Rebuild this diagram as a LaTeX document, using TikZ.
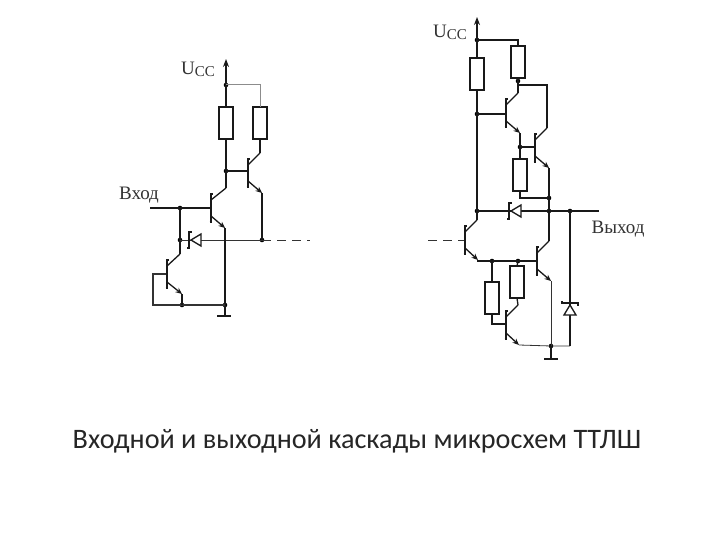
\documentclass[tikz,border=0pt]{standalone}
\usepackage{fontspec}
\setmainfont{Liberation Serif}
\newfontfamily\capfont{Carlito}
\usetikzlibrary{arrows.meta,calc}
\tikzset{
  x=1pt,y=-1pt,
  wire/.style={line width=1.3pt,black!90},
  thinwire/.style={line width=0.8pt,black!80},
  graywire/.style={line width=1pt,black!45},
  resbox/.style={draw=black!90,line width=1.2pt,fill=white,minimum width=14pt,minimum height=32pt,inner sep=0pt,outer sep=0pt},
  jdot/.style={circle,fill=black,inner sep=0pt,minimum size=4.6pt},
  lab/.style={inner sep=0pt,text=black!80,font=\fontsize{19}{19}\selectfont},
  emit/.style={line width=1.3pt,black!90,-{Stealth[length=6.5pt,width=5.5pt]}},
  groundbar/.style={line width=2pt,black!90},
}
% transistor: name, bar x, bar centre y, collector end x, emitter end x
\newcommand{\bjtsym}[5]{%
  \coordinate (#1b) at (#2,#3);
  \coordinate (#1c) at (#4,#3-20);
  \coordinate (#1e) at (#5,#3+20);
  \draw[wire] (#2-1.5,#3+14) -- (#2,#3+14) -- (#2,#3-14) -- (#2+2,#3-14);
  \draw[wire] (#2,#3-8) -- (#1c);
  \draw[emit] (#2,#3+8) -- (#1e);
}
% Schottky diode, tip at (0,0); bar a little behind the tip
\newcommand{\sdiode}[3]{%
  \begin{scope}[shift={(#1,#2)},rotate=#3]
    \draw[wire,fill=white] (0,0) -- (10,-6) -- (10,6) -- cycle;
    \draw[wire] (0.5,-8) -- (-2,-8) -- (-2,8) -- (-4,8);
  \end{scope}
}
\newcommand{\ucc}{U{\fontsize{15}{15}\selectfont\raisebox{-2pt}{CC}}}
\begin{document}
\begin{tikzpicture}
\useasboundingbox[fill=white] (0,0) rectangle (720,540);

% ---------- left circuit
\node[resbox] (R1) at (226,123) {};
\node[resbox] (R2) at (260,123) {};
\node[jdot] (dV) at (226,85) {};
\node[jdot] (dB) at (226,171) {};
\node[jdot] (dI) at (180,208) {};
\node[jdot] (dD) at (180,240) {};
\node[jdot] (dO) at (262,240) {};
\node[jdot] (dX) at (182,305) {};
\node[jdot] (dG) at (225,305) {};
\coordinate (top1) at (226,59);
\coordinate (in) at (150,208);
\coordinate (dash1) at (310,240);
\coordinate (gnd1) at (225,316);
\coordinate (TAb) at (211,208);
\coordinate (TAc) at (226,188);
\coordinate (TAe) at (225,228);
\coordinate (TBb) at (248,173);
\coordinate (TBc) at (260,153);
\coordinate (TBe) at (262,193);
\coordinate (TCb) at (167,274);
\coordinate (TCc) at (180,254);
\coordinate (TCe) at (182,294);
\draw[wire,-{Stealth[length=8pt,width=6pt]}] (dV.center) -- (top1);
\draw[wire] (dV.center) -- (R1.north);
\draw[graywire] (dV.center) -| (R2.north);
\draw[wire] (R1.south) -- (dB.center);
\draw[wire] (dB.center) -- (TAc);
\draw[wire] (dB.center) -- (TBb |- dB);
\draw[wire] (R2.south) -- (TBc);
\draw[wire] (TBe) -- (dO.center);
\draw[wire] (in) -- (TAb);
\draw[wire] (dI.center) -- (dD.center) -- (TCc);
\draw[thinwire] (dD.center) -- (dO.center);
\draw[thinwire,dash pattern=on 9pt off 6pt] (dO.center) -- (dash1);
\draw[wire] (TAe) -- (dG.center);
\draw[wire] (dG.center) -- (gnd1);
\draw[groundbar] (217,316) -- (231,316);
\draw[thinwire,line width=1.1pt] (TCb) -- (153,274) -- (153,305) -- (dX.center) -- (dG.center);
\draw[wire] (TCe) -- (dX.center);
\bjtsym{TA}{211}{208}{226}{225}
\bjtsym{TB}{248}{173}{260}{262}
\bjtsym{TC}{167}{274}{180}{182}
\sdiode{191}{240}{0}
\node[lab] (lU1) at (198,69) {\ucc};
\node[lab] (lIn) at (139,195) {Вход};

% ---------- right circuit
\node[resbox] (R3) at (477,74) {};
\node[resbox] (R4) at (518,62) {};
\node[resbox] (R5) at (520,175) {};
\node[resbox] (R6) at (492,298) {};
\node[resbox] (R7) at (517,282) {};
\node[jdot] (eV) at (477,40) {};
\node[jdot] (eB) at (477,114) {};
\node[jdot] (eC) at (518,81) {};
\node[jdot] (eE) at (520,147) {};
\node[jdot] (eS) at (549,198) {};
\node[jdot] (eL) at (477,211) {};
\node[jdot] (eM) at (549,211) {};
\node[jdot] (eR) at (570,211) {};
\node[jdot] (eP) at (492,261) {};
\node[jdot] (eQ) at (518,261) {};
\node[jdot] (eG) at (551,346) {};
\coordinate (top2) at (477,17);
\coordinate (outp) at (599,211);
\coordinate (dash2) at (428,240);
\coordinate (gnd2) at (551,359);
\coordinate (loopT) at (547,85);
\coordinate (loopL) at (518,85);
\coordinate (kR6) at (492,324);
\coordinate (eHc) at (570,346);
\coordinate (TDb) at (506,113);
\coordinate (TDc) at (518,93);
\coordinate (TDe) at (520,133);
\coordinate (TEb) at (535,148);
\coordinate (TEc) at (547,128);
\coordinate (TEe) at (549,168);
\coordinate (TFb) at (465,240);
\coordinate (TFc) at (477,220);
\coordinate (TFe) at (478,260);
\coordinate (TGb) at (537,261);
\coordinate (TGc) at (549,241);
\coordinate (TGe) at (551,281);
\coordinate (THb) at (506,325);
\coordinate (THc) at (518,305);
\coordinate (THe) at (519,345);
\draw[wire,-{Stealth[length=8pt,width=6pt]}] (eV.center) -- (top2);
\draw[wire] (eV.center) -- (R3.north);
\draw[wire] (eV.center) -| (R4.north);
\draw[wire] (R3.south) -- (eB.center) -- (eL.center);
\draw[wire] (eB.center) -- (TDb |- eB);
\draw[wire] (R4.south) -- (eC.center) -- (TDc);
\draw[wire] (loopL) -- (loopT) -- (TEc);
\draw[wire] (TDe) -- (eE.center) -- (R5.north);
\draw[wire] (eE.center) -- (TEb |- eE);
\draw[wire] (R5.south) |- (eS.center);
\draw[wire] (TEe) -- (eS.center) -- (eM.center) -- (TGc);
\draw[wire] (eL.center) -- (outp);
\draw[wire] (eL.center) -- (TFc);
\draw[thinwire,dash pattern=on 9pt off 6pt] (dash2) -- (TFb);
\draw[wire] (TFe) -- (TFe |- eP) -- (eP.center) -- (eQ.center) -- (TGb);
\draw[wire] (eP.center) -- (R6.north);
\draw[wire] (eQ.center) -- (R7.north);
\draw[wire] (R6.south) -- (kR6) -- (kR6 -| THb);
\draw[wire] (R7.south) -- (THc);
\draw[thinwire] (TGe) -- (eG.center);
\draw[thinwire] (THe) -- (eG.center) -- (eHc);
\draw[wire] (eR.center) -- (eHc);
\draw[wire] (eG.center) -- (gnd2);
\draw[groundbar] (544,359) -- (558,359);
\bjtsym{TD}{506}{113}{518}{520}
\bjtsym{TE}{535}{148}{547}{549}
\bjtsym{TF}{465}{240}{477}{478}
\bjtsym{TG}{537}{261}{549}{551}
\bjtsym{TH}{506}{325}{518}{519}
\sdiode{511}{211}{0}
\sdiode{570}{305}{-90}
\node[lab] (lU2) at (450,32) {\ucc};
\node[lab] (lOut) at (618,229) {Выход};

% ---------- caption
\node[inner sep=0pt,text=black!85,font=\capfont\fontsize{28.2}{28.2}\selectfont] (cap) at (357,441) {Входной и выходной каскады микросхем ТТЛШ};
\end{tikzpicture}
\end{document}
